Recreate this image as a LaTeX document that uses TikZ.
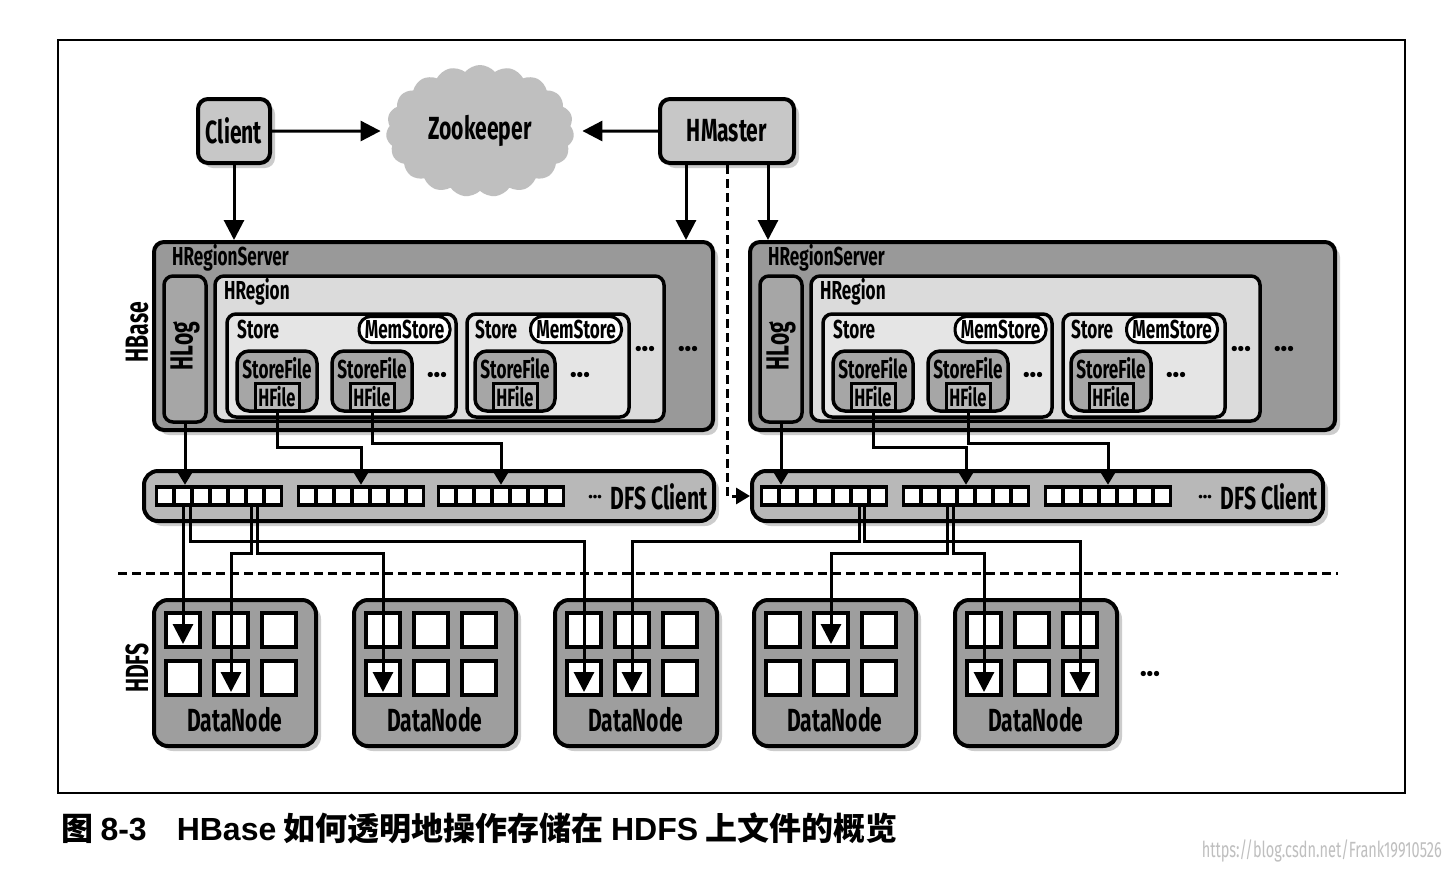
\documentclass[tikz,border=0pt]{standalone}
\usepackage{fontspec}
\setmainfont{Fira Sans}
\newfontfamily\boxfont[FakeStretch=0.66]{Fira Sans}
\newfontfamily\cjkfont{Noto Sans CJK SC}
\newfontfamily\capfont{Liberation Sans}
\usetikzlibrary{arrows.meta,shapes.symbols,shadows,positioning}

\tikzset{
  shade box/.style={draw, line width=4pt, rounded corners=10pt, inner sep=0pt,
    drop shadow={shadow xshift=5pt, shadow yshift=-5pt, opacity=0.4}},
  inner box/.style={draw, line width=3.5pt, rounded corners=9pt, inner sep=0pt},
  lbl/.style={font=\boxfont\bfseries\fontsize{26}{26}\selectfont, inner sep=0pt},
  big lbl/.style={font=\boxfont\bfseries\fontsize{32}{32}\selectfont, inner sep=0pt},
  dots/.style={font=\normalfont\bfseries\fontsize{19}{19}\selectfont, inner sep=0pt},
  mem/.style={draw, line width=3pt, fill=white, rounded corners=12pt, inner sep=0pt,
    minimum width=91pt, minimum height=26pt, lbl},
  hfile/.style={draw, line width=3pt, fill=black!28, inner sep=0pt,
    minimum width=44pt, minimum height=27pt,
    font=\boxfont\bfseries\fontsize{25}{25}\selectfont},
  grp/.style={fill=black, minimum width=128pt, minimum height=22pt, inner sep=0pt},
  cell/.style={draw, line width=4pt, fill=white, minimum size=34pt, inner sep=0pt},
  wire/.style={line width=3pt, -{Triangle[length=20pt,width=20pt]}},
  small wire/.style={line width=3pt, -{Triangle[length=14pt,width=16pt]}},
}

\begin{document}
\begin{tikzpicture}[x=1pt, y=-1pt]
    \fill[white] (0,0) rectangle (1450,868);
    \useasboundingbox (0,0) rectangle (1450,868);

    % Frame
    \draw[line width=1.5pt] (58,40) rectangle (1405,793);

    % Separator
    \draw[line width=3pt, dash pattern=on 9pt off 5pt] (118,573) -- (1338,573);

    % Client, Zookeeper, HMaster
    \node[shade box, fill=black!22, minimum width=72pt, minimum height=64pt, big lbl] (client) at (234,131) {Client};
    \node[cloud, cloud puffs=19, cloud puff arc=100, aspect=1.5, fill=black!25, minimum width=188pt, minimum height=132pt, big lbl] (zk) at (480,131) {Zookeeper};
    \node[shade box, fill=black!22, minimum width=134pt, minimum height=64pt, big lbl] (hmaster) at (727,131) {HMaster};

    % Labels
    \node[big lbl, rotate=90] (hbaselbl) at (137,332) {HBase};
    \node[big lbl, rotate=90] (hdfslbl) at (137,668) {HDFS};

    % Left HRegionServer
    \node[shade box, fill=black!40, minimum width=559pt, minimum height=188pt] (lhrs) at (433.5,336) {};
    \node[lbl, anchor=west] (lhrslbl) at (172,258) {HRegionServer};
    \node[inner box, fill=black!35, minimum width=42pt, minimum height=146pt] (lhlog) at (185,349) {};
    \node[big lbl, rotate=90] (lhlogtxt) at (185,346) {HLog};
    \node[inner box, fill=black!14, minimum width=449pt, minimum height=145pt] (lhreg) at (439.5,348.5) {};
    \node[lbl, anchor=west] (lhreglbl) at (224,292) {HRegion};
    \node[inner box, fill=black!10, minimum width=229pt, minimum height=103pt] (lst1) at (341.5,365.5) {};
    \node[lbl, anchor=west] (lst1lbl) at (237,329) {Store};
    \node[mem] (lmem1) at (404.5,329.5) {MemStore};
    \node[inner box, fill=black!10, minimum width=162pt, minimum height=103pt] (lst2) at (548,365.5) {};
    \node[lbl, anchor=west] (lst2lbl) at (475,329) {Store};
    \node[mem] (lmem2) at (576,329.5) {MemStore};
    \node[inner box, fill=black!35, minimum width=80pt, minimum height=60pt, rounded corners=12pt] (lsf1) at (277,381) {};
    \node[inner box, fill=black!35, minimum width=80pt, minimum height=60pt, rounded corners=12pt] (lsf2) at (372,381) {};
    \node[inner box, fill=black!35, minimum width=80pt, minimum height=60pt, rounded corners=12pt] (lsf3) at (515,381) {};
    \node[lbl] (lsf1t) at (277,368) {StoreFile};
    \node[lbl] (lsf2t) at (372,368) {StoreFile};
    \node[lbl] (lsf3t) at (515,368) {StoreFile};
    \node[hfile] (lhf1) at (277,396.5) {HFile};
    \node[hfile] (lhf2) at (372,396.5) {HFile};
    \node[hfile] (lhf3) at (515,396.5) {HFile};
    \node[dots] (ldots1) at (437,377) {•••};
    \node[dots] (ldots2) at (580,377) {•••};
    \node[dots] (ldots3) at (645,351) {•••};
    \node[dots] (ldots4) at (688,351) {•••};

    % Right HRegionServer
    \node[shade box, fill=black!40, minimum width=585pt, minimum height=188pt] (rhrs) at (1042.5,336) {};
    \node[lbl, anchor=west] (rhrslbl) at (768,258) {HRegionServer};
    \node[inner box, fill=black!35, minimum width=42pt, minimum height=146pt] (rhlog) at (781,349) {};
    \node[big lbl, rotate=90] (rhlogtxt) at (781,346) {HLog};
    \node[inner box, fill=black!14, minimum width=449pt, minimum height=145pt] (rhreg) at (1035.5,348.5) {};
    \node[lbl, anchor=west] (rhreglbl) at (820,292) {HRegion};
    \node[inner box, fill=black!10, minimum width=229pt, minimum height=103pt] (rst1) at (937.5,365.5) {};
    \node[lbl, anchor=west] (rst1lbl) at (833,329) {Store};
    \node[mem] (rmem1) at (1000.5,329.5) {MemStore};
    \node[inner box, fill=black!10, minimum width=162pt, minimum height=103pt] (rst2) at (1144,365.5) {};
    \node[lbl, anchor=west] (rst2lbl) at (1071,329) {Store};
    \node[mem] (rmem2) at (1172,329.5) {MemStore};
    \node[inner box, fill=black!35, minimum width=80pt, minimum height=60pt, rounded corners=12pt] (rsf1) at (873,381) {};
    \node[inner box, fill=black!35, minimum width=80pt, minimum height=60pt, rounded corners=12pt] (rsf2) at (968,381) {};
    \node[inner box, fill=black!35, minimum width=80pt, minimum height=60pt, rounded corners=12pt] (rsf3) at (1111,381) {};
    \node[lbl] (rsf1t) at (873,368) {StoreFile};
    \node[lbl] (rsf2t) at (968,368) {StoreFile};
    \node[lbl] (rsf3t) at (1111,368) {StoreFile};
    \node[hfile] (rhf1) at (873,396.5) {HFile};
    \node[hfile] (rhf2) at (968,396.5) {HFile};
    \node[hfile] (rhf3) at (1111,396.5) {HFile};
    \node[dots] (rdots1) at (1033,377) {•••};
    \node[dots] (rdots2) at (1176,377) {•••};
    \node[dots] (rdots3) at (1241,351) {•••};
    \node[dots] (rdots4) at (1284,351) {•••};

    % DFS Clients
    \node[shade box, fill=black!28, minimum width=570pt, minimum height=50pt, rounded corners=14pt] (ldfs) at (429,496) {};
    \node[shade box, fill=black!28, minimum width=571pt, minimum height=50pt, rounded corners=14pt] (rdfs) at (1037.5,496) {};
    \node[grp] (lg1) at (219,496) {};
    \node[grp] (lg2) at (361,496) {};
    \node[grp] (lg3) at (501,496) {};
    \node[grp] (rg1) at (824,496) {};
    \node[grp] (rg2) at (966,496) {};
    \node[grp] (rg3) at (1108,496) {};
    \foreach \g in {lg1,lg2,lg3,rg1,rg2,rg3}
      \foreach \k in {-3,...,3}
        \fill[white] ([xshift=\k*18pt]\g.center) ++(-7,-7) rectangle ++(14,14);
    \node[big lbl, anchor=east] (ldfslbl) at (708,497) {\raisebox{8pt}{\normalfont\bfseries\fontsize{13}{13}\selectfont•••}\hspace{9pt}DFS Client};
    \node[big lbl, anchor=east] (rdfslbl) at (1318,497) {\raisebox{8pt}{\normalfont\bfseries\fontsize{13}{13}\selectfont•••}\hspace{9pt}DFS Client};

    % DataNodes
    \foreach \n/\x in {1/235,2/435,3/636,4/835,5/1036} {
      \node[shade box, fill=black!38, minimum width=162pt, minimum height=146pt, rounded corners=14pt] (dn\n) at (\x,673) {};
      \foreach \r/\dy in {1/43,2/-5}
        \foreach \c/\dx in {1/-52,2/-4,3/44}
          \node[cell] (dn\n-\r-\c) at ([xshift=\dx pt, yshift=\dy pt]dn\n.center) {};
      \node[big lbl] (dn\n t) at ([yshift=-47pt]dn\n.center) {DataNode};
    }
    \node[dots] (dndots) at (1150,676) {•••};

    % Top connectors
    \draw[wire, shorten >=6pt] (client.east) -- (zk.west);
    \draw[wire, shorten >=9pt] (hmaster.west) -- (zk.east);
    \draw[wire] (client.south) -- (client.south |- lhrs.north);
    \coordinate (m1) at ([xshift=-41pt]hmaster.south);
    \coordinate (m2) at ([xshift=41pt]hmaster.south);
    \draw[wire] (m1) -- (m1 |- lhrs.north);
    \draw[wire] (m2) -- (m2 |- rhrs.north);
    \draw[small wire, dash pattern=on 9pt off 5pt] (hmaster.south) |- (rdfs.west);

    % Region servers to DFS Clients
    \draw[small wire] (lhlog.south) -- (lhlog.south |- lg1.north);
    \draw[small wire] (lhf1.south) -- ++(0,36) -| (lg2.north);
    \draw[small wire] (lhf2.south) -- ++(0,32) -| (lg3.north);
    \draw[small wire] (rhlog.south) -- (rhlog.south |- rg1.north);
    \draw[small wire] (rhf1.south) -- ++(0,36) -| (rg2.north);
    \draw[small wire] (rhf2.south) -- ++(0,32) -| (rg3.north);

    % DFS Clients to DataNodes
    \coordinate (a1) at (dn1-1-1.center |- lg1.south);
    \coordinate (b1) at ([xshift=-29pt]lg1.south);
    \coordinate (c1) at ([xshift=32pt]lg1.south);
    \coordinate (d1) at ([xshift=38pt]lg1.south);
    \coordinate (e1) at ([xshift=35pt]rg1.south);
    \coordinate (f1) at ([xshift=40pt]rg1.south);
    \coordinate (g1) at ([xshift=-19pt]rg2.south);
    \coordinate (h1) at ([xshift=-13pt]rg2.south);
    \draw[wire] (a1) -- ([yshift=5pt]dn1-1-1.south);
    \draw[wire] (b1) -- ++(0,34) -| ([yshift=5pt]dn3-2-1.south);
    \draw[wire] (c1) -- ++(0,46) -| ([yshift=5pt]dn1-2-2.south);
    \draw[wire] (d1) -- ++(0,46) -| ([yshift=5pt]dn2-2-1.south);
    \draw[wire] (e1) -- ++(0,34) -| ([yshift=5pt]dn3-2-2.south);
    \draw[wire] (f1) -- ++(0,34) -| ([yshift=5pt]dn5-2-3.south);
    \draw[wire] (g1) -- ++(0,46) -| ([yshift=5pt]dn4-1-2.south);
    \draw[wire] (h1) -- ++(0,46) -| ([yshift=5pt]dn5-2-1.south);

    % Caption
    \node[anchor=west, inner sep=0pt, font=\cjkfont\bfseries\fontsize{32}{32}\selectfont] (caption) at (61,828)
      {图 {\capfont 8-3}\hspace{30pt}{\capfont HBase} 如何透明地操作存储在 {\capfont HDFS} 上文件的概览};
    \node[anchor=east, inner sep=0pt, text=black!25, font=\boxfont\fontsize{22}{22}\selectfont] (wm) at (1442,851)
      {https://blog.csdn.net/Frank19910526};
\end{tikzpicture}
\end{document}
